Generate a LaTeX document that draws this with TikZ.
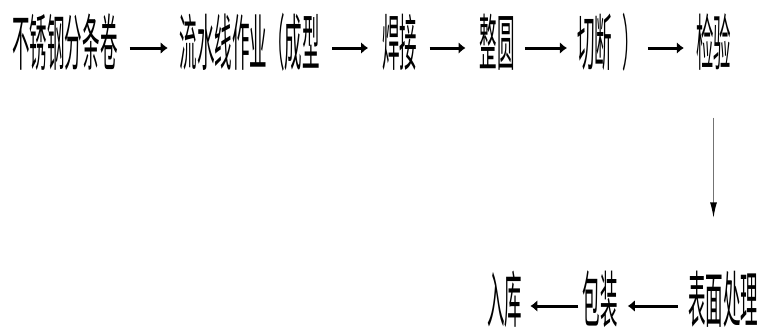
\documentclass[tikz,border=0pt]{standalone}
\usepackage{graphicx}
\usepackage{fontspec}
\setmainfont{Noto Sans CJK SC}
\usetikzlibrary{positioning, arrows.meta}

\newcommand\tall[1]{\scalebox{1}[3.5]{\fontsize{17.5pt}{20pt}\selectfont #1}}

\begin{document}
\begin{tikzpicture}[x=1pt, y=1pt, node distance=62pt,
	step box/.style={inner sep=0pt, text height=57pt, text depth=6pt},
	flow/.style={line width=3pt, -{Latex[length=7pt,width=12pt]}},
	down flow/.style={line width=1.6pt, draw=black!55, -{Latex[length=16pt,width=7pt,black]}}]
	\useasboundingbox (0,0) rectangle (762,-333);
	% top row
	\node[step box] (coil) at (65,-40) {\tall{不锈钢分条卷}};
	\node[step box] (line) [right=of coil] {\tall{流水线作业（成型}};
	\node[step box] (weld) [right=of line] {\tall{焊接}};
	\node[step box] (round) [right=of weld] {\tall{整圆}};
	\node[step box] (cut) [right=of round] {\tall{切断\hspace{10pt}）}};
	\node[step box] (check) [right=56pt of cut] {\tall{检验}};
	% bottom row
	\node[step box] (surface) at (723,-297) {\tall{表面处理}};
	\node[step box] (pack) [left=70pt of surface] {\tall{包装}};
	\node[step box] (store) [left=60pt of pack] {\tall{入库}};
	% arrows
	\draw[flow, shorten <=12pt, shorten >=12pt] ([yshift=-8pt]coil.east) -- ([yshift=-8pt]line.west);
	\draw[flow, shorten <=12pt, shorten >=14pt] ([yshift=-8pt]line.east) -- ([yshift=-8pt]weld.west);
	\draw[flow, shorten <=12pt, shorten >=14pt] ([yshift=-8pt]weld.east) -- ([yshift=-8pt]round.west);
	\draw[flow, shorten <=10pt, shorten >=10pt] ([yshift=-8pt]round.east) -- ([yshift=-8pt]cut.west);
	\draw[flow, shorten <=8pt, shorten >=12pt] ([yshift=-8pt]cut.east) -- ([yshift=-8pt]check.west);
	\draw[down flow, shorten <=46pt, shorten >=47pt] (check.south) -- (check.south |- surface.north);
	\draw[flow, shorten <=10pt, shorten >=10pt] ([yshift=-9pt]surface.west) -- ([yshift=-9pt]pack.east);
	\draw[flow, shorten <=4pt, shorten >=8pt] ([yshift=-9pt]pack.west) -- ([yshift=-9pt]store.east);
\end{tikzpicture}
\end{document}
